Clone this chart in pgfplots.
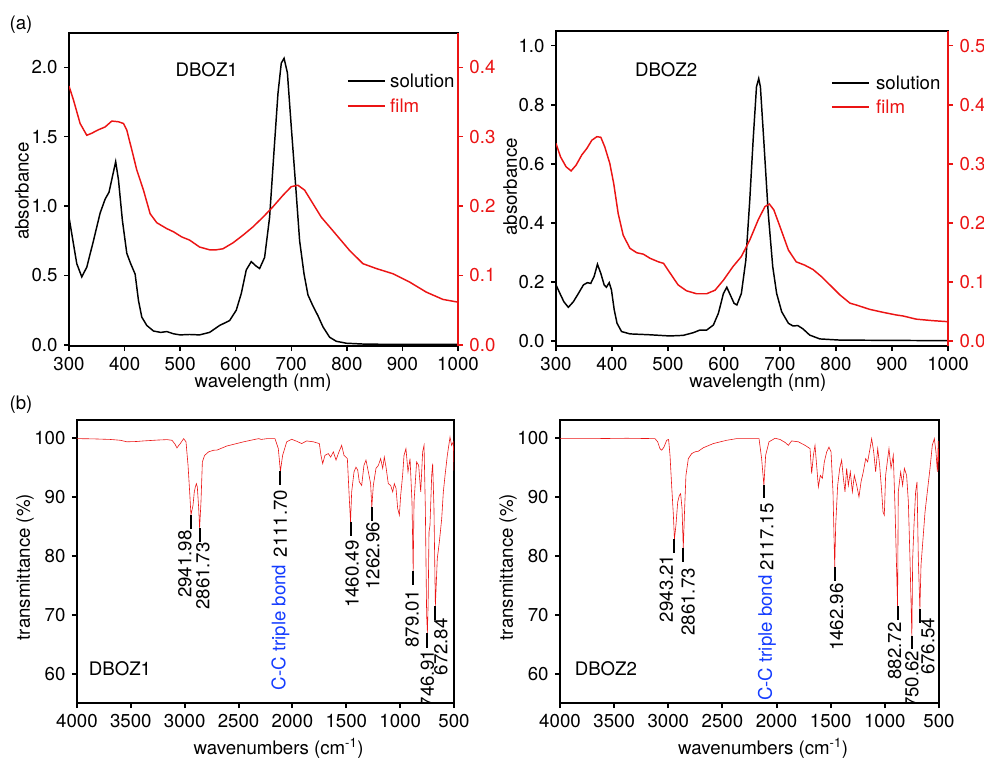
\documentclass[border=0pt]{standalone}
\usepackage{fontspec}
\setmainfont{TeX Gyre Heros}
\usepackage{pgfplots}
\pgfplotsset{compat=1.18}
\definecolor{fr}{RGB}{235,20,20}
\definecolor{cb}{RGB}{20,60,255}
\pgfplotsset{
  base/.style={scale only axis, tick align=outside, major tick length=3.75pt,
    axis line style={line width=1.1pt}, every tick/.style={line width=1.1pt, black},
    /pgf/number format/assume math mode=true, /pgf/number format/1000 sep={},
    scaled ticks=false},
}
\tikzset{lbl/.style={rotate=90, anchor=east, inner sep=0pt},
  legtxt/.style={anchor=west, inner sep=0pt}}
\begin{document}
\fontsize{14}{16.5}\selectfont
\begin{tikzpicture}
\useasboundingbox (0,0) rectangle (738pt,568.5pt);
\node at (15.75pt,549.75pt) {(a)};
\node at (15.75pt,264.75pt) {(b)};
% ---------------- top-left ----------------
\begin{axis}[base, at={(51.75pt,309pt)}, anchor=south west, width=291.75pt, height=234.75pt,
  xmin=300, xmax=1000, ymin=-0.008, ymax=2.247,
  xtick={300,400,...,1000}, ytick={0,0.5,...,2.0}, xtick pos=bottom, ytick pos=left,
  yticklabel style={/pgf/number format/.cd, fixed, fixed zerofill, precision=1},
  xlabel={wavelength (nm)}, ylabel={absorbance},
  xlabel style={at={(axis description cs:0.499,-0.118)}, anchor=center},
  ylabel style={at={(axis description cs:-0.121,0.495)}, anchor=center}]
\addplot[black, line width=1.1pt] coordinates {
(300,0.92) (305,0.80) (314,0.585) (323,0.49) (332,0.56) (344,0.75) (356,0.95) (365,1.05) (372,1.10) (378,1.21) (384,1.32) (389,1.19) (396,0.90) (404,0.66) (411,0.585) (419,0.51) (425,0.32) (431,0.20) (440,0.14) (452,0.10) (465,0.09) (476,0.096) (488,0.08) (500,0.072) (517,0.075) (535,0.072) (553,0.09) (571,0.14) (589,0.175) (601,0.25) (610,0.37) (619,0.54) (628,0.60) (636,0.57) (643,0.55) (652,0.63) (661,0.92) (669,1.40) (676,1.81) (682,2.03) (687,2.065) (693,1.96) (700,1.57) (708,1.14) (715,0.75) (723,0.51) (730,0.36) (739,0.28) (748,0.21) (757,0.13) (769,0.055) (781,0.026) (799,0.012) (835,0.005) (1000,0.003)};
\node at (axis description cs:0.354,0.882) {DBOZ1};
\draw[black, line width=1.1pt] (axis description cs:0.717,0.847) -- (axis description cs:0.812,0.847);
\node[legtxt] at (axis description cs:0.825,0.847) {solution};
\draw[fr, line width=1.1pt] (axis description cs:0.717,0.767) -- (axis description cs:0.812,0.767);
\node[legtxt, text=fr] at (axis description cs:0.825,0.767) {film};
\end{axis}
\begin{axis}[base, at={(51.75pt,309pt)}, anchor=south west, width=291.75pt, height=234.75pt,
  xmin=300, xmax=1000, ymin=-0.0016, ymax=0.4494,
  axis x line=none, axis y line*=right, tick align=outside,
  y axis line style={fr, line width=1.1pt}, ytick style={fr, line width=1.1pt},
  ytick={0,0.1,...,0.4},
  yticklabel style={fr, /pgf/number format/.cd, fixed, fixed zerofill, precision=1}]
\addplot[fr, line width=1.1pt] coordinates {
(300,0.373) (308,0.353) (320,0.319) (332,0.302) (341,0.305) (353,0.310) (365,0.314) (377,0.3225) (389,0.3215) (398,0.319) (404,0.3095) (413,0.281) (422,0.252) (434,0.223) (446,0.189) (458,0.176) (476,0.1675) (488,0.163) (503,0.1555) (517,0.151) (535,0.141) (553,0.137) (565,0.137) (577,0.1385) (595,0.147) (613,0.158) (631,0.170) (649,0.184) (667,0.199) (685,0.2155) (700,0.228) (712,0.230) (724,0.223) (739,0.2035) (754,0.184) (769,0.170) (787,0.153) (805,0.136) (829,0.117) (853,0.110) (883,0.1025) (913,0.0905) (943,0.076) (973,0.0655) (1000,0.0616)};
\end{axis}
% ---------------- top-right ----------------
\begin{axis}[base, at={(417pt,309pt)}, anchor=south west, width=294pt, height=236.25pt,
  xmin=300, xmax=1000, ymin=-0.017, ymax=1.050,
  xtick={300,400,...,1000}, ytick={0,0.2,...,1.0}, xtick pos=bottom, ytick pos=left,
  yticklabel style={/pgf/number format/.cd, fixed, fixed zerofill, precision=1},
  xlabel={wavelength (nm)}, ylabel={absorbance},
  xlabel style={at={(axis description cs:0.515,-0.117)}, anchor=center},
  ylabel style={at={(axis description cs:-0.117,0.505)}, anchor=center}]
\addplot[black, line width=1.1pt] coordinates {
(300,0.19) (307,0.161) (314,0.133) (322,0.114) (331,0.133) (340,0.161) (349,0.19) (356,0.1975) (362,0.195) (368,0.218) (374,0.26) (380,0.229) (386,0.19) (390,0.182) (395,0.1975) (399,0.173) (404,0.105) (409,0.06) (417,0.032) (432,0.024) (468,0.021) (503,0.017) (527,0.019) (545,0.028) (557,0.037) (569,0.037) (581,0.054) (590,0.094) (599,0.161) (605,0.182) (610,0.161) (618,0.1275) (623,0.122) (631,0.161) (639,0.274) (646,0.477) (652,0.68) (658,0.861) (662,0.889) (665,0.861) (671,0.68) (679,0.432) (687,0.252) (694,0.161) (703,0.099) (715,0.06) (723,0.051) (732,0.052) (741,0.041) (753,0.02) (771,0.007) (807,0.003) (1000,0.001)};
\node at (axis description cs:0.281,0.876) {DBOZ2};
\draw[black, line width=1.1pt] (axis description cs:0.704,0.835) -- (axis description cs:0.798,0.835);
\node[legtxt] at (axis description cs:0.816,0.835) {solution};
\draw[fr, line width=1.1pt] (axis description cs:0.704,0.759) -- (axis description cs:0.798,0.759);
\node[legtxt, text=fr] at (axis description cs:0.816,0.759) {film};
\end{axis}
\begin{axis}[base, at={(417pt,309pt)}, anchor=south west, width=294pt, height=236.25pt,
  xmin=300, xmax=1000, ymin=-0.0085, ymax=0.525,
  axis x line=none, axis y line*=right, tick align=outside,
  y axis line style={fr, line width=1.1pt}, ytick style={fr, line width=1.1pt},
  ytick={0,0.1,...,0.5},
  yticklabel style={fr, /pgf/number format/.cd, fixed, fixed zerofill, precision=1}]
\addplot[fr, line width=1.1pt] coordinates {
(300,0.3346) (308,0.312) (318,0.295) (327,0.288) (336,0.298) (346,0.315) (355,0.326) (364,0.340) (373,0.346) (380,0.345) (387,0.329) (396,0.301) (403,0.267) (411,0.216) (420,0.179) (432,0.157) (444,0.1495) (456,0.147) (468,0.140) (483,0.134) (492,0.1315) (503,0.116) (518,0.095) (533,0.085) (551,0.080) (569,0.080) (584,0.086) (599,0.103) (616,0.126) (631,0.143) (646,0.171) (661,0.205) (673,0.2275) (681,0.232) (689,0.222) (700,0.1935) (715,0.154) (729,0.134) (744,0.1285) (759,0.121) (774,0.109) (789,0.095) (807,0.078) (825,0.064) (836,0.061) (860,0.0536) (884,0.0485) (908,0.044) (920,0.0423) (943,0.037) (973,0.0344) (1000,0.0327)};
\end{axis}
% ---------------- bottom-left ----------------
\begin{axis}[base, at={(57.75pt,41.25pt)}, anchor=south west, width=282.75pt, height=212.25pt,
  axis line style={line width=1.5pt}, every tick/.style={line width=1.5pt, black},
  x dir=reverse, xmin=500, xmax=4000, ymin=55.08, ymax=103.1,
  xtick={500,1000,...,4000}, ytick={60,70,...,100}, xtick pos=bottom, ytick pos=left,
  xlabel={wavenumbers (cm\textsuperscript{-1})}, ylabel={transmittance (\%)},
  xlabel style={at={(axis description cs:0.535,-0.159)}, anchor=center},
  ylabel style={at={(axis description cs:-0.138,0.48)}, anchor=center}]
\addplot[fr, line width=0.45pt] coordinates {
(4000,99.94) (3850,99.9) (3691,99.8) (3598,99.66) (3536,99.4) (3450,99.45) (3381,99.55) (3250,99.7) (3164,99.77) (3118,99.66) (3090,99.0) (3072,98.36) (3055,98.8) (3041,99.1) (3010,99.94) (2988,99.4) (2969,95.4) (2954,90.9) (2942,87.0) (2923,88.6) (2911,90.9) (2901,91.75) (2892,92.3) (2883,91.75) (2870,88.1) (2861.7,84.7) (2849,89.2) (2836,96.0) (2815,97.1) (2778,97.7) (2731,97.97) (2700,98.0) (2607,98.7) (2453,99.4) (2344,99.83) (2313,99.94) (2290,99.8) (2236,99.94) (2162,99.94) (2131,98.25) (2111.7,94.4) (2091,97.1) (2053,99.4) (2007,99.83) (1961,99.5) (1914,99.1) (1868,99.55) (1806,99.4) (1750,99.1) (1735,97.1) (1719,95.7) (1698,97.1) (1667,97.4) (1645,96.8) (1620,97.7) (1595,96.3) (1574,97.4) (1543,98.8) (1521,97.1) (1490,96.55) (1472,89.8) (1460.5,85.8) (1450,90.9) (1428,94.3) (1410,95.1) (1394,94.6) (1379,92.6) (1357,92.0) (1336,95.4) (1317,96.3) (1295,94.3) (1274,92.3) (1263,88.3) (1249,92.0) (1224,94.9) (1202,95.4) (1181,96.55) (1162,94.9) (1147,96.8) (1131,95.1) (1110,92.3) (1088,92.0) (1069,90.9) (1054,92.3) (1038,91.5) (1023,88.1) (1007,86.95) (995,90.3) (977,93.7) (964,97.1) (946,98.25) (927,94.3) (908,96.55) (890,89.2) (879,77.5) (871,89.2) (847,96.0) (828,95.4) (809,90.9) (791,97.7) (778,98.8) (766,88.1) (754,70) (747,67.0) (740,72) (732,84.1) (723,85.2) (707,93.7) (698,95.7) (686,88.1) (673,71.5) (655,79.6) (636,82.4) (614,86.4) (599,90.9) (583,93.7) (562,97.1) (537,100.2) (522,98.8) (506,99.4) (500,94.5)};
\addplot[black, line width=1.5pt] coordinates {(2941.98,86.95) (2941.98,84.6)};
\addplot[black, line width=1.5pt] coordinates {(2861.73,84.75) (2861.73,82.4)};
\addplot[black, line width=1.5pt] coordinates {(2111.70,94.4) (2111.70,92.0)};
\addplot[black, line width=1.5pt] coordinates {(1460.49,85.8) (1460.49,83.4)};
\addplot[black, line width=1.5pt] coordinates {(1262.96,88.3) (1262.96,85.9)};
\addplot[black, line width=1.5pt] coordinates {(879.01,77.5) (879.01,75.1)};
\addplot[black, line width=1.5pt] coordinates {(746.91,67.0) (746.91,64.4)};
\addplot[black, line width=1.5pt] coordinates {(672.84,71.5) (672.84,69.2)};
\node[lbl] at (axis cs:2998,84.4) {2941.98};
\node[lbl] at (axis cs:2830,82.4) {2861.73};
\node[lbl] at (axis cs:2111.7,91.3) {2111.70};
\node[lbl, text=cb] at (axis cs:2111.7,78.6) {C-C triple bond};
\node[lbl] at (axis cs:1446.6,82.7) {1460.49};
\node[lbl] at (axis cs:1253.7,85.8) {1262.96};
\node[lbl] at (axis cs:888.3,74.2) {879.01};
\node[lbl] at (axis cs:746.91,64.1) {746.91};
\node[lbl] at (axis cs:621.8,69.5) {672.84};
\node at (axis description cs:0.114,0.120) {DBOZ1};
\end{axis}
% ---------------- bottom-right ----------------
\begin{axis}[base, at={(420pt,41.25pt)}, anchor=south west, width=284.25pt, height=212.25pt,
  axis line style={line width=1.5pt}, every tick/.style={line width=1.5pt, black},
  x dir=reverse, xmin=500, xmax=4000, ymin=55.08, ymax=103.1,
  xtick={500,1000,...,4000}, ytick={60,70,...,100}, xtick pos=bottom, ytick pos=left,
  xlabel={wavenumbers (cm\textsuperscript{-1})}, ylabel={transmittance (\%)},
  xlabel style={at={(axis description cs:0.536,-0.159)}, anchor=center},
  ylabel style={at={(axis description cs:-0.137,0.48)}, anchor=center}]
\addplot[fr, line width=0.45pt] coordinates {
(4000,99.94) (3692,99.94) (3384,100) (3123,99.94) (3098,99.4) (3077,98.25) (3061,97.97) (3040,98.5) (3015,99.66) (2997,99.8) (2984,97.1) (2969,92.0) (2953,86.95) (2943.2,82.9) (2929,85.3) (2913,89.2) (2898,90.3) (2886,90.6) (2873,88.1) (2861.7,81.3) (2849,88.1) (2837,93.7) (2815,96.55) (2784,97.4) (2753,97.7) (2723,97.8) (2676,98.4) (2584,99.1) (2461,99.66) (2369,99.94) (2246,99.94) (2162,99.94) (2138,96.55) (2117.2,92.0) (2101,97.1) (2070,99.4) (2014,100) (1968,99.8) (1922,99.3) (1891,98.8) (1861,99.55) (1799,99.4) (1737,98.8) (1691,98.25) (1676,94.0) (1660,97.1) (1645,98.8) (1630,95.4) (1614,91.75) (1596,93.7) (1577,93.2) (1559,96.0) (1537,97.7) (1516,98.5) (1497,97.7) (1479,90.9) (1463,78.1) (1454,85.25) (1436,92.0) (1417,94.9) (1399,96.3) (1383,93.2) (1368,90.9) (1353,94.9) (1337,92.0) (1319,94.3) (1300,90.9) (1282,93.7) (1260,92.0) (1239,90.05) (1220,92.6) (1199,94.3) (1177,96.55) (1159,96.0) (1137,98.25) (1122,99.94) (1103,97.7) (1085,94.3) (1066,98.25) (1048,95.4) (1029,90.9) (1017,87.5) (1005,86.95) (993,93.7) (974,96.55) (962,98.25) (943,94.9) (922,97.1) (906,88.1) (882.7,71.5) (876,90.9) (854,94.3) (836,92.0) (820,94.9) (799,93.7) (783,89.2) (768,79.6) (750.6,66.4) (743,79.6) (731,85.25) (716,90.9) (703,92.6) (691,79.6) (676.5,71.0) (666,78.5) (645,83.6) (629,87.5) (608,90.9) (583,94.9) (562,98.8) (543,99.94) (528,97.7) (515,94.3) (507,99.5) (500,94.5)};
\addplot[black, line width=1.5pt] coordinates {(2943.21,82.9) (2943.21,80.5)};
\addplot[black, line width=1.5pt] coordinates {(2861.73,81.4) (2861.73,79.0)};
\addplot[black, line width=1.5pt] coordinates {(2117.15,92.1) (2117.15,89.9)};
\addplot[black, line width=1.5pt] coordinates {(1462.96,78.1) (1462.96,75.8)};
\addplot[black, line width=1.5pt] coordinates {(882.72,71.5) (882.72,69.2)};
\addplot[black, line width=1.5pt] coordinates {(750.62,66.4) (750.62,64.2)};
\addplot[black, line width=1.5pt] coordinates {(676.54,71.0) (676.54,68.6)};
\node[lbl] at (axis cs:3017,80.3) {2943.21};
\node[lbl] at (axis cs:2815.6,78.0) {2861.73};
\node[lbl] at (axis cs:2089.4,89.0) {2117.15};
\node[lbl, text=cb] at (axis cs:2089.4,76.8) {C-C triple bond};
\node[lbl] at (axis cs:1444.5,75.4) {1462.96};
\node[lbl] at (axis cs:910.4,68.8) {882.72};
\node[lbl] at (axis cs:750.62,64.0) {750.62};
\node[lbl] at (axis cs:602.7,69.6) {676.54};
\node at (axis description cs:0.121,0.120) {DBOZ2};
\end{axis}
\end{tikzpicture}
\end{document}
